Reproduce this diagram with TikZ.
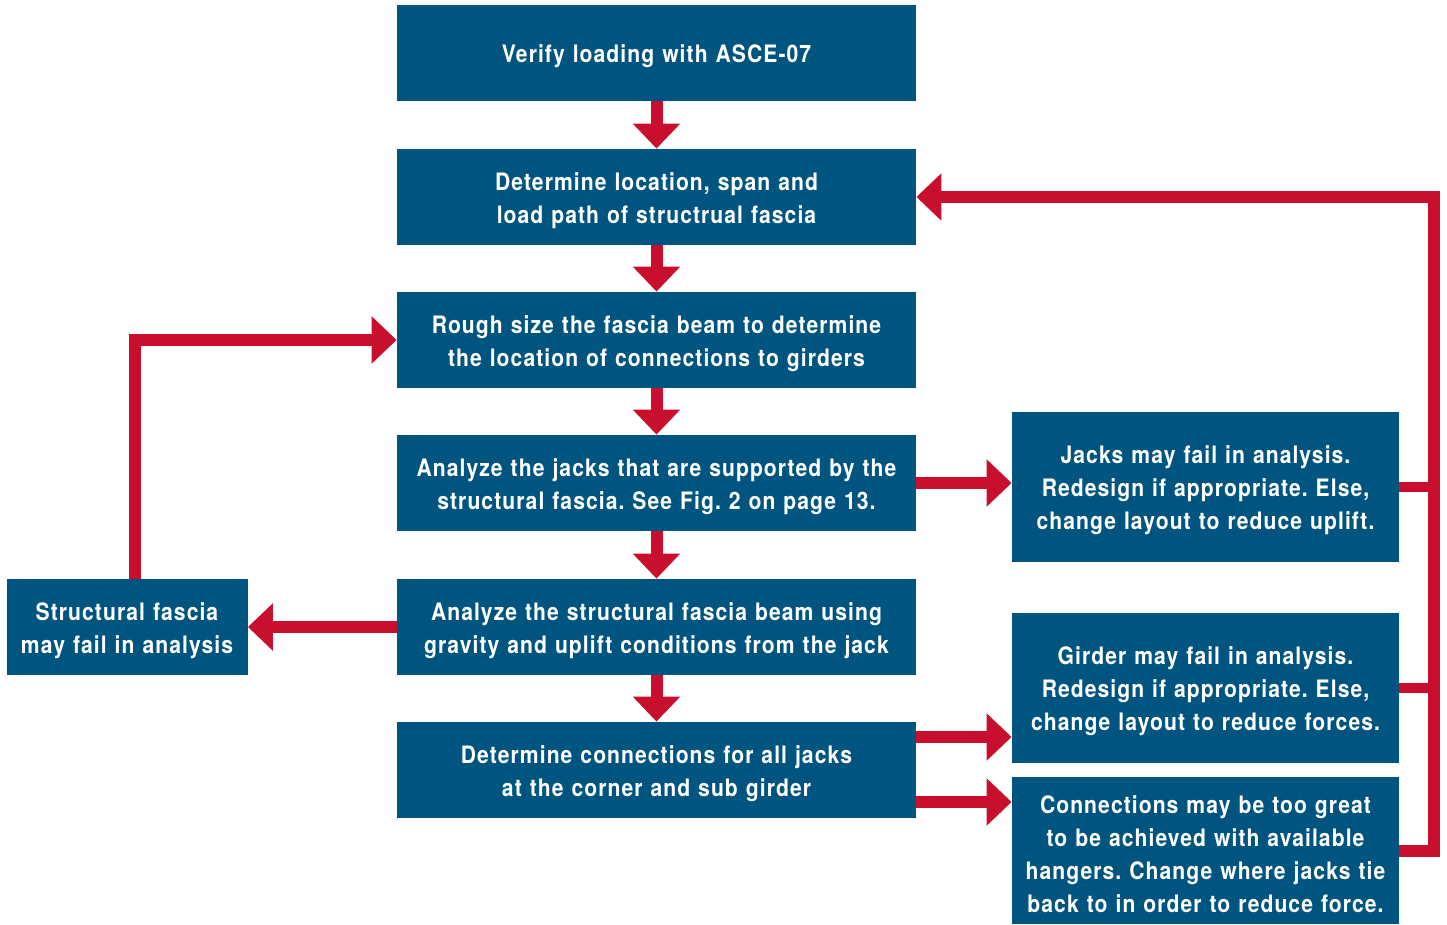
\documentclass[tikz,border=0pt]{standalone}
\usepackage{fontspec}
\newfontfamily\boxfont{texgyreheros-bold.otf}[FakeStretch=0.88,LetterSpace=4.4]
\usetikzlibrary{arrows.meta}
\usetikzlibrary{calc,positioning}
\frenchspacing

\definecolor{boxblue}{RGB}{0,85,128}
\definecolor{flowred}{RGB}{200,16,46}

\tikzset{
  stepbox/.style={fill=boxblue,text=white,font=\fontsize{12}{16.5}\selectfont\boxfont,
    align=center,inner sep=0pt,minimum width=259.5pt,minimum height=48pt,text width=250pt,
    execute at begin node={\noindent\rule{0pt}{12.5pt}}},
  sidebox/.style={stepbox,minimum width=193.5pt,text width=190pt,minimum height=75pt},
  flow/.style={draw=flowred,line width=6pt,-{Triangle[width=23pt,length=12.5pt]}},
  feed/.style={draw=flowred,line width=5pt,line join=miter}
}

\begin{document}
\begin{tikzpicture}[x=0.5pt,y=-0.5pt]
        \useasboundingbox (0,0) rectangle (1447,925);

        % main column
        \node[stepbox] (b1) at (656.5,53) {Verify loading with ASCE-07};
        \node[stepbox] (b2) at (656.5,197) {Determine location, span and\\load path of structrual fascia};
        \node[stepbox] (b3) at (656.5,340) {Rough size the fascia beam to determine\\the location of connections to girders};
        \node[stepbox] (b4) at (656.5,483) {Analyze the jacks that are supported by the\\structural fascia. See Fig. 2 on page 13.};
        \node[stepbox] (b5) at (656.5,627) {Analyze the structural fascia beam using\\gravity and uplift conditions from the jack};
        \node[stepbox] (b6) at (656.5,770) {Determine connections for all jacks\\at the corner and sub girder};

        % side boxes
        \node[stepbox,minimum width=120.5pt,text width=118pt] (lf) at (127,627) {Structural fascia\\may fail in analysis};
        \node[sidebox] (r1) at (1205.5,487) {Jacks may fail in analysis.\\Redesign if appropriate. Else,\\change layout to reduce uplift.};
        \node[sidebox] (r2) at (1205.5,688) {Girder may fail in analysis.\\Redesign if appropriate. Else,\\change layout to reduce forces.};
        \node[sidebox,minimum height=73.5pt] (r3) at (1205.5,850.5) {Connections may be too great\\to be achieved with available\\hangers. Change where jacks tie\\back to in order to reduce force.};

        \coordinate (rtop) at (1434,197);

        % down arrows
        \draw[flow] (b1) -- (b2);
        \draw[flow] (b2) -- (b3);
        \draw[flow] (b3) -- (b4);
        \draw[flow] (b4) -- (b5);
        \draw[flow] (b5) -- (b6);

        % side arrows
        \draw[flow] (b4.east) -- (b4.east -| r1.west);
        \draw[flow] (b5.west) -- (b5.west -| lf.east);
        \draw[flow] ($(b6.east)+(0,-33)$) -- ($(b6.east -| r2.west)+(0,-33)$);
        \draw[flow] ($(b6.east)+(0,32)$) -- ($(b6.east -| r3.west)+(0,32)$);

        % feedback loops
        \draw[flow] ([xshift=4pt]lf.north) |- (b3.west);
        \draw[feed] (r1.east) -- (r1.east -| rtop);
        \draw[feed] (r2.east) -- (r2.east -| rtop);
        \draw[flow] (r3.east) -| (rtop) -- (b2.east);
      \end{tikzpicture}
\end{document}
